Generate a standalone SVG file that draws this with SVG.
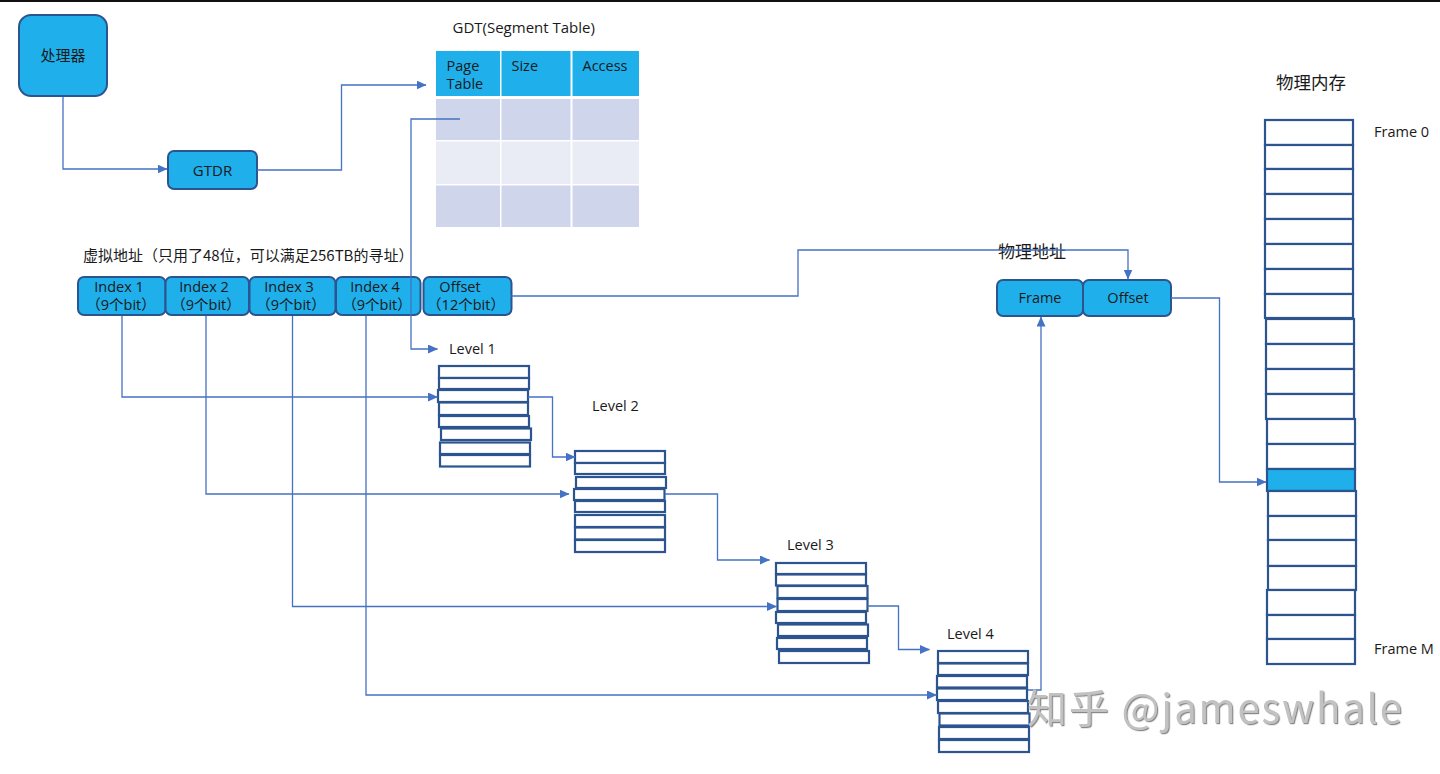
<svg xmlns="http://www.w3.org/2000/svg" width="1440" height="774" viewBox="0 0 1440 774">
  <defs>
    <style>
      text { text-spacing-trim: space-all; }
      .box { fill: #1fafeb; stroke: #2c5590; stroke-width: 2; }
      .hdr { fill: #1fafeb; }
      .rowA { fill: #cfd5ea; }
      .rowB { fill: #e9ebf5; }
      .slot { fill: #ffffff; stroke: #2c5590; stroke-width: 2.2; }
      .slot-on { fill: #1fafeb; stroke: #2c5590; stroke-width: 2.2; }
      .t { font-family: "Open Sans", "Noto Sans", "Noto Sans CJK SC", sans-serif; fill: #1a1a1a; }
      .cn { font-family: "Noto Sans CJK SC", "Noto Sans", sans-serif; fill: #1a1a1a; }
      .mid { text-anchor: middle; }
      .wire { fill: none; stroke: #4472c4; stroke-width: 1.3; }
      .wm { font-family: "Noto Sans CJK SC", "Noto Sans", sans-serif; fill: #c2c2c2; }
    </style>
    <marker id="arrow" markerUnits="userSpaceOnUse" markerWidth="10" markerHeight="9" refX="9.5" refY="4.5" orient="auto">
      <path d="M0,0 L10,4.5 L0,9 z" fill="#4472c4"/>
    </marker>
    <filter id="wmShadow" x="-5%" y="-20%" width="110%" height="140%">
      <feDropShadow dx="1.2" dy="1.2" stdDeviation="0.6" flood-color="#6a6a6a" flood-opacity="0.8"/>
    </filter>
  </defs>

  <rect x="0" y="0" width="1440" height="774" fill="#ffffff"/>
  <rect x="0" y="0" width="1440" height="2" fill="#111111"/>

  <!-- CPU -->
  <g id="processor">
    <rect class="box" x="19" y="15" width="88" height="81" rx="12"/>
    <text class="cn mid" x="63" y="61" font-size="15">处理器</text>
  </g>

  <!-- GDT base register -->
  <g id="gtdr">
    <rect class="box" x="168" y="151" width="89" height="38" rx="6"/>
    <text class="t mid" x="212.5" y="175.5" font-size="15">GTDR</text>
  </g>

  <!-- segment table -->
  <g id="gdt">
    <text class="t" x="452.5" y="33" font-size="15">GDT(Segment Table)</text>
    <rect class="hdr" x="436" y="51" width="64" height="45"/>
    <rect class="hdr" x="501.5" y="51" width="69" height="45"/>
    <rect class="hdr" x="572.5" y="51" width="66.5" height="45"/>
    <rect class="rowA" x="436" y="99" width="64" height="41"/>
    <rect class="rowA" x="501.5" y="99" width="69" height="41"/>
    <rect class="rowA" x="572.5" y="99" width="66.5" height="41"/>
    <rect class="rowB" x="436" y="141.5" width="64" height="42.5"/>
    <rect class="rowB" x="501.5" y="141.5" width="69" height="42.5"/>
    <rect class="rowB" x="572.5" y="141.5" width="66.5" height="42.5"/>
    <rect class="rowA" x="436" y="185.5" width="64" height="41.5"/>
    <rect class="rowA" x="501.5" y="185.5" width="69" height="41.5"/>
    <rect class="rowA" x="572.5" y="185.5" width="66.5" height="41.5"/>
    <text class="t" x="446.5" y="71" font-size="14.5">Page</text>
    <text class="t" x="446.5" y="88.5" font-size="14.5">Table</text>
    <text class="t" x="511.5" y="71" font-size="14.5">Size</text>
    <text class="t" x="582.5" y="71" font-size="14.5">Access</text>
  </g>

  <!-- linear address fields -->
  <g id="virtual-address">
    <text class="cn" x="83" y="261" font-size="15">虚拟地址（只用了48位，可以满足256TB的寻址）</text>
    <rect class="box" x="78" y="277" width="87.5" height="38" rx="6"/>
    <rect class="box" x="165.5" y="277" width="83.5" height="38" rx="6"/>
    <rect class="box" x="249.5" y="277" width="86" height="38" rx="6"/>
    <rect class="box" x="336" y="277" width="84.5" height="38" rx="6"/>
    <rect class="box" x="423.5" y="277" width="88" height="38" rx="6"/>
    <text class="t mid" font-size="14.5"><tspan x="119" y="292">Index 1</tspan><tspan x="121" y="310">（9个bit）</tspan></text>
    <text class="t mid" font-size="14.5"><tspan x="204" y="292">Index 2</tspan><tspan x="206" y="310">（9个bit）</tspan></text>
    <text class="t mid" font-size="14.5"><tspan x="289" y="292">Index 3</tspan><tspan x="291" y="310">（9个bit）</tspan></text>
    <text class="t mid" font-size="14.5"><tspan x="375" y="292">Index 4</tspan><tspan x="377" y="310">（9个bit）</tspan></text>
    <text class="t mid" font-size="14.5"><tspan x="460" y="292">Offset</tspan><tspan x="466" y="310">（12个bit）</tspan></text>
  </g>

  <!-- page table levels -->
  <g id="level-1">
    <text class="t" x="449" y="354" font-size="14.5">Level 1</text>
    <rect class="slot" x="439" y="366" width="90" height="12"/>
    <rect class="slot" x="439" y="378" width="90" height="11"/>
    <rect class="slot" x="438" y="390" width="90" height="12"/>
    <rect class="slot" x="439" y="402.5" width="89" height="12.5"/>
    <rect class="slot" x="439" y="416" width="90" height="11"/>
    <rect class="slot" x="441" y="428.5" width="90" height="11.5"/>
    <rect class="slot" x="440" y="442.5" width="90" height="11.5"/>
    <rect class="slot" x="440" y="455" width="90" height="11.5"/>
  </g>

  <g id="level-2">
    <text class="t" x="592" y="410.5" font-size="14.5">Level 2</text>
    <rect class="slot" x="575" y="451" width="90" height="12"/>
    <rect class="slot" x="575" y="463" width="90" height="11"/>
    <rect class="slot" x="576" y="477" width="90" height="11"/>
    <rect class="slot" x="574" y="489" width="90.5" height="11"/>
    <rect class="slot" x="575" y="501" width="90" height="11"/>
    <rect class="slot" x="575" y="515" width="90" height="12"/>
    <rect class="slot" x="575" y="527.5" width="90" height="12"/>
    <rect class="slot" x="575" y="540" width="90" height="12"/>
  </g>

  <g id="level-3">
    <text class="t" x="787" y="550" font-size="14.5">Level 3</text>
    <rect class="slot" x="776" y="563" width="90" height="11"/>
    <rect class="slot" x="776" y="574.5" width="90" height="11"/>
    <rect class="slot" x="777.5" y="586" width="90" height="12"/>
    <rect class="slot" x="777.5" y="599" width="90" height="12"/>
    <rect class="slot" x="776" y="612" width="90" height="11"/>
    <rect class="slot" x="778" y="624.5" width="90" height="11.5"/>
    <rect class="slot" x="777" y="638" width="90" height="11"/>
    <rect class="slot" x="779" y="651" width="90" height="12"/>
  </g>

  <g id="level-4">
    <text class="t" x="947" y="639" font-size="14.5">Level 4</text>
    <rect class="slot" x="938" y="651" width="90" height="12"/>
    <rect class="slot" x="938" y="663.5" width="90" height="11.5"/>
    <rect class="slot" x="937" y="676" width="90" height="11.5"/>
    <rect class="slot" x="937" y="688.5" width="90" height="11.5"/>
    <rect class="slot" x="938" y="701" width="90" height="12"/>
    <rect class="slot" x="939.5" y="713.5" width="90" height="12"/>
    <rect class="slot" x="939" y="727" width="90" height="12"/>
    <rect class="slot" x="939" y="740" width="90" height="12"/>
  </g>

  <!-- physical address fields -->
  <g id="physical-address">
    <text class="cn" x="998" y="258" font-size="17">物理地址</text>
    <rect class="box" x="997" y="280" width="86" height="36" rx="6"/>
    <rect class="box" x="1083" y="280" width="88" height="36" rx="6"/>
    <text class="t mid" x="1040" y="303" font-size="14.5">Frame</text>
    <text class="t mid" x="1128" y="303" font-size="14.5">Offset</text>
  </g>

  <!-- physical memory frames -->
  <g id="physical-memory">
    <text class="cn" x="1276" y="89" font-size="17.5">物理内存</text>
    <text class="t" x="1374" y="137" font-size="14.5">Frame 0</text>
    <text class="t" x="1374" y="654" font-size="14.5">Frame M</text>
    <rect class="slot" x="1265" y="120" width="88" height="25"/>
    <rect class="slot" x="1265" y="145" width="88" height="24"/>
    <rect class="slot" x="1265" y="169" width="88" height="25"/>
    <rect class="slot" x="1265" y="194" width="88" height="25"/>
    <rect class="slot" x="1265" y="219" width="88" height="25"/>
    <rect class="slot" x="1265" y="244" width="88" height="25"/>
    <rect class="slot" x="1265" y="269" width="88" height="25"/>
    <rect class="slot" x="1265" y="294" width="88" height="24"/>
    <rect class="slot" x="1266" y="319" width="88" height="25"/>
    <rect class="slot" x="1266" y="344" width="88" height="25"/>
    <rect class="slot" x="1266" y="369" width="88" height="25"/>
    <rect class="slot" x="1266" y="394" width="88" height="25"/>
    <rect class="slot" x="1267" y="419" width="88" height="25"/>
    <rect class="slot" x="1267" y="444" width="88" height="25"/>
    <rect class="slot-on" x="1267" y="469" width="88" height="22"/>
    <rect class="slot" x="1268" y="491" width="88" height="25"/>
    <rect class="slot" x="1268" y="516" width="88" height="24"/>
    <rect class="slot" x="1268" y="540" width="88" height="26"/>
    <rect class="slot" x="1268" y="566" width="88" height="24"/>
    <rect class="slot" x="1267" y="590" width="88" height="25"/>
    <rect class="slot" x="1267" y="615" width="88" height="24"/>
    <rect class="slot" x="1267" y="639" width="88" height="25"/>
  </g>

  <!-- connectors -->
  <g id="connectors">
    <path class="wire" d="M63,97 V169 H167" marker-end="url(#arrow)"/>
    <path class="wire" d="M257,170 H341.5 V85 H426" marker-end="url(#arrow)"/>
    <path class="wire" d="M460,119 H411 V349 H437.5" marker-end="url(#arrow)"/>
    <path class="wire" d="M122,316 V397 H437.5" marker-end="url(#arrow)"/>
    <path class="wire" d="M206,316 V494 H569" marker-end="url(#arrow)"/>
    <path class="wire" d="M292.5,316 V606.5 H776.5" marker-end="url(#arrow)"/>
    <path class="wire" d="M366,316 V695 H936.5" marker-end="url(#arrow)"/>
    <path class="wire" d="M528,397 H552.5 V457 H575" marker-end="url(#arrow)"/>
    <path class="wire" d="M665,494 H717.5 V560 H769.5" marker-end="url(#arrow)"/>
    <path class="wire" d="M867.5,606 H898.5 V649.5 H929.5" marker-end="url(#arrow)"/>
    <path class="wire" d="M1028,690 H1041 V317" marker-end="url(#arrow)"/>
    <path class="wire" d="M511.5,296 H798 V250 H1128 V279" marker-end="url(#arrow)"/>
    <path class="wire" d="M1171,298 H1219.5 V482 H1266" marker-end="url(#arrow)"/>
  </g>

  <text class="wm" x="1027" y="723" font-size="40" textLength="375" lengthAdjust="spacing" filter="url(#wmShadow)">知乎 @jameswhale</text>
</svg>
